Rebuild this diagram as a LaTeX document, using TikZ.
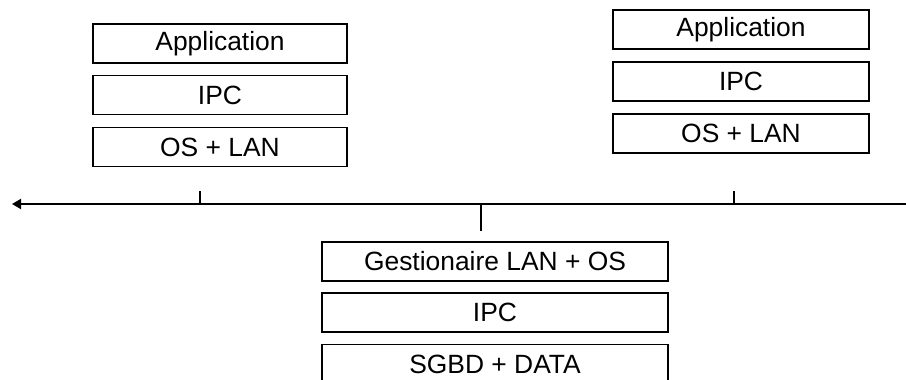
\documentclass[tikz,border=0pt]{standalone}
\usepackage{fontspec}
\setmainfont{Liberation Sans}
\usetikzlibrary{arrows.meta}
\tikzset{layer/.style={draw,line width=1.2pt,minimum height=39pt,inner sep=0pt,font=\fontsize{26.4}{30}\selectfont}}

\begin{document}
\begin{tikzpicture}[x=1pt,y=1pt]
        \useasboundingbox (0,0) rectangle (906,-380);
        \clip (0,0) rectangle (906,-380);
        \node[layer,minimum width=254pt] (appA) at (220,-43.5) {Application};
        \node[layer,minimum width=254pt] (ipcA) at (220,-95) {IPC};
        \node[layer,minimum width=254pt] (osA) at (220,-147) {OS + LAN};
        \node[layer,minimum width=256pt] (appB) at (741,-29.5) {Application};
        \node[layer,minimum width=256pt] (ipcB) at (741,-81.5) {IPC};
        \node[layer,minimum width=256pt] (osB) at (741,-133.5) {OS + LAN};
        \node[layer,minimum width=346pt] (lanS) at (495,-261.5) {Gestionaire LAN + OS};
        \node[layer,minimum width=346pt] (ipcS) at (495,-312.5) {IPC};
        \node[layer,minimum width=346pt] (dbS) at (495,-364) {SGBD + DATA};
        \coordinate (busE) at (906,-204);
        \coordinate (busW) at (12,-204);
        \coordinate (busA) at (200,-204);
        \coordinate (busB) at (734,-204);
        \coordinate (busS) at (481,-204);
        \coordinate (tickA) at (200,-191);
        \coordinate (tickB) at (734,-191);
        \coordinate (tickS) at (481,-231);
        \draw[line width=1.8pt,-{Triangle[length=9pt,width=10pt]}] (busE) -- (busW);
        \draw[line width=1.2pt] (busA) -- (tickA);
        \draw[line width=1.2pt] (busB) -- (tickB);
        \draw[line width=1.2pt] (busS) -- (tickS);
    \end{tikzpicture}
\end{document}
